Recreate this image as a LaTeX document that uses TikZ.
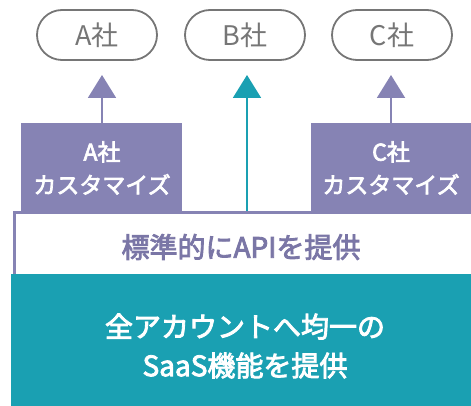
\documentclass[tikz,border=0pt]{standalone}
\usepackage{fontspec}
\setmainfont{Noto Sans CJK JP}
\newfontfamily\medfont[FakeBold=3]{Noto Sans CJK JP}
\usetikzlibrary{arrows.meta}
\definecolor{purp}{HTML}{8683B4}
\definecolor{purptext}{HTML}{7A76A6}
\definecolor{teal}{HTML}{1AA0B2}
\definecolor{pillgray}{HTML}{767676}
\tikzset{
  pill/.style={draw=pillgray, line width=1.8pt, rounded corners=25pt, minimum width=120pt, minimum height=50pt, inner sep=0pt, text=pillgray, font=\fontsize{27}{30}\selectfont},
  custbox/.style={fill=purp, minimum width=161pt, minimum height=88pt, inner sep=0pt, anchor=north west},
  custtext/.style={text=white, align=center, font=\fontsize{23}{33}\selectfont\medfont},
  arr/.style={line width=2pt, -{Triangle[width=28pt,length=23pt]}},
}
\begin{document}
\begin{tikzpicture}[x=1pt,y=-1pt]
\useasboundingbox (0,0) rectangle (471,406);
% pills
\node[pill] (pa) at (97,35) {A社};
\node[pill] (pb) at (245,35) {B社};
\node[pill] (pc) at (392,35) {C社};
% customization boxes
\node[custbox] (ca) at (21,123) {};
\node[custbox] (cc) at (311,123) {};
\node[custtext] (tca) at (102,168) {A社\\カスタマイズ};
\node[custtext] (tcc) at (391,168) {C社\\カスタマイズ};
% API box
\node[draw=purp, line width=3pt, fill=white, minimum width=470pt, minimum height=63pt, inner sep=0pt, anchor=north west] (api) at (12.5,211) {};
\node[text=purptext, font=\fontsize{28}{30}\selectfont\medfont] (tapi) at (241,247) {標準的にAPIを提供};
% SaaS box
\node[fill=teal, minimum width=470pt, minimum height=135pt, inner sep=0pt, anchor=north west] (saas) at (11,274) {};
\node[text=white, align=center, font=\fontsize{28}{39}\selectfont\medfont] (tsaas) at (245,346) {全アカウントへ均一の\\SaaS機能を提供};
% arrow tips
\coordinate (ta) at (102,75);
\coordinate (tb) at (247,75);
\coordinate (tc) at (391,75);
\draw[arr, purp] (ca.north -| ta) -- (ta);
\draw[arr, teal] (api.north -| tb) -- (tb);
\draw[arr, purp] (cc.north -| tc) -- (tc);
\end{tikzpicture}
\end{document}
